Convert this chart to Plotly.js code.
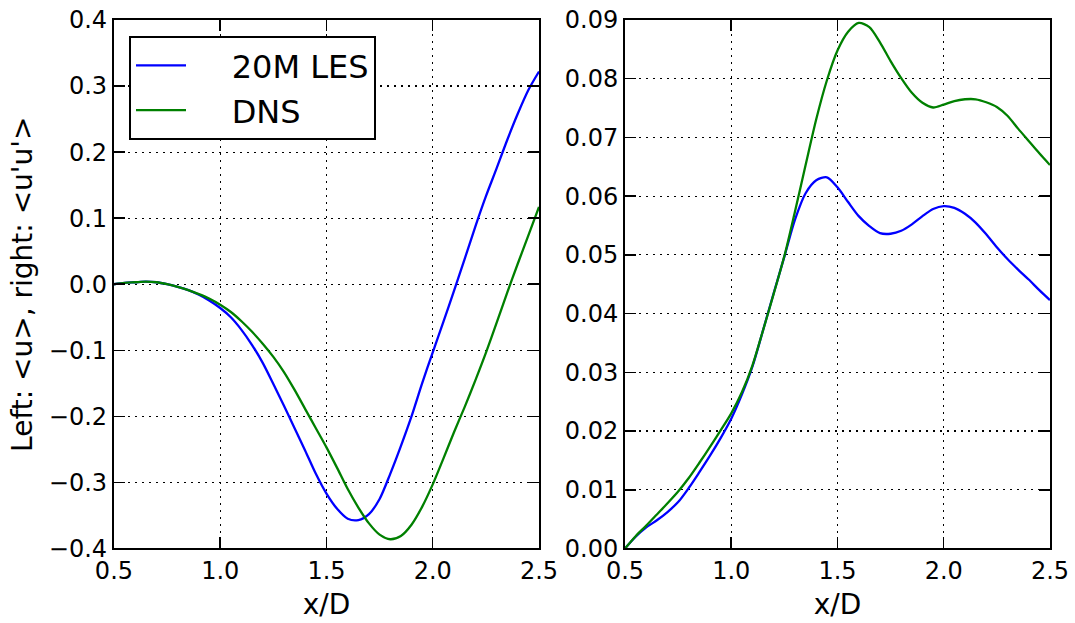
<!DOCTYPE html>
<html>
<head>
<meta charset="utf-8">
<script src="https://cdn.plot.ly/plotly-3.0.1.min.js"></script>
<style>html,body{margin:0;padding:0;background:#fff;}#chart{width:1075px;height:623px;}</style>
</head>
<body>
<div id="chart"></div>
<script>
// x positions (x/D)
const xD = [0.50,0.55,0.60,0.65,0.70,0.75,0.80,0.85,0.90,0.95,1.00,1.05,1.10,1.15,1.20,1.25,1.30,1.35,1.40,1.45,1.50,1.55,1.60,1.65,1.70,1.75,1.80,1.85,1.90,1.95,2.00,2.05,2.10,2.15,2.20,2.25,2.30,2.35,2.40,2.45,2.50];

// Left panel: <u>
const uLES = [0.000,0.002,0.003,0.004,0.003,0.000,-0.004,-0.009,-0.016,-0.025,-0.036,-0.050,-0.069,-0.092,-0.119,-0.151,-0.184,-0.218,-0.252,-0.287,-0.317,-0.340,-0.355,-0.357,-0.348,-0.325,-0.287,-0.245,-0.200,-0.150,-0.103,-0.057,-0.010,0.038,0.087,0.133,0.175,0.218,0.258,0.294,0.322];
const uDNS = [0.000,0.002,0.003,0.004,0.003,0.000,-0.004,-0.009,-0.015,-0.022,-0.031,-0.042,-0.056,-0.072,-0.090,-0.110,-0.133,-0.160,-0.189,-0.218,-0.247,-0.278,-0.310,-0.338,-0.362,-0.379,-0.386,-0.381,-0.364,-0.337,-0.303,-0.264,-0.224,-0.186,-0.146,-0.104,-0.059,-0.013,0.031,0.074,0.117];

// Right panel: <u'u'>
const uuLES = [0.0000,0.0020,0.0036,0.0048,0.0062,0.0079,0.0103,0.0130,0.0158,0.0188,0.0221,0.0262,0.0310,0.0372,0.0435,0.0497,0.0560,0.0605,0.0627,0.0632,0.0615,0.0590,0.0566,0.0549,0.0537,0.0536,0.0541,0.0552,0.0566,0.0578,0.0583,0.0580,0.0570,0.0555,0.0535,0.0513,0.0493,0.0475,0.0458,0.0440,0.0423];
const uuDNS = [0.0000,0.0021,0.0039,0.0058,0.0077,0.0097,0.0120,0.0146,0.0173,0.0201,0.0230,0.0266,0.0312,0.0372,0.0434,0.0498,0.0574,0.0653,0.0731,0.0797,0.0848,0.0880,0.0895,0.0888,0.0862,0.0830,0.0801,0.0776,0.0759,0.0751,0.0756,0.0762,0.0765,0.0765,0.0760,0.0752,0.0737,0.0715,0.0694,0.0673,0.0653];

const seriesNames = ['20M LES', 'DNS'];
const colors = ['#0000ff', '#008000'];
const yTitle = 'Left: &lt;u&gt;, right: &lt;u\'u\'&gt;';
const xTitle = 'x/D';

const FONT = 'DejaVu Sans, sans-serif';
const PAD = '\u00a0\u00a0\u00a0\u00a0';
const LW = 2.3;

const traces = [
  {x: xD, y: uLES, name: PAD + seriesNames[0], xaxis: 'x', yaxis: 'y', mode: 'lines', line: {color: colors[0], width: LW, shape: 'spline', smoothing: 0.8}},
  {x: xD, y: uDNS, name: PAD + seriesNames[1], xaxis: 'x', yaxis: 'y', mode: 'lines', line: {color: colors[1], width: LW, shape: 'spline', smoothing: 0.8}},
  {x: xD, y: uuLES, name: seriesNames[0], xaxis: 'x2', yaxis: 'y2', mode: 'lines', showlegend: false, line: {color: colors[0], width: LW, shape: 'spline', smoothing: 0.8}},
  {x: xD, y: uuDNS, name: seriesNames[1], xaxis: 'x2', yaxis: 'y2', mode: 'lines', showlegend: false, line: {color: colors[1], width: LW, shape: 'spline', smoothing: 0.8}}
];

function axisCommon() {
  return {
    showline: true, linecolor: '#000', linewidth: 2, mirror: 'allticks',
    ticks: 'inside', ticklen: 11, tickwidth: 1.5, tickcolor: '#000',
    showgrid: true, gridcolor: '#000', gridwidth: 1.2, griddash: '2px,5px',
    zeroline: false, automargin: false,
    tickfont: {family: FONT, size: 24, color: '#000'}
  };
}
const titleFont = {family: FONT, size: 28, color: '#000'};

const xa = Object.assign(axisCommon(), {domain: [0.106, 0.5014], range: [0.5, 2.5], dtick: 0.5, tick0: 0.5, tickformat: '.1f', anchor: 'y',
  title: {text: xTitle, font: titleFont, standoff: 10}});
const xa2 = Object.assign(axisCommon(), {domain: [0.5814, 0.9767], range: [0.5, 2.5], dtick: 0.5, tick0: 0.5, tickformat: '.1f', anchor: 'y2',
  title: {text: xTitle, font: titleFont, standoff: 10}});
const ya = Object.assign(axisCommon(), {domain: [0.1196, 0.9679], range: [-0.4, 0.4], dtick: 0.1, tick0: 0, tickformat: '.1f', anchor: 'x',
  title: {text: yTitle, font: titleFont, standoff: 8}});
const ya2 = Object.assign(axisCommon(), {domain: [0.1196, 0.9679], range: [0, 0.09], dtick: 0.01, tick0: 0, tickformat: '.2f', anchor: 'x2'});

const layout = {
  width: 1075, height: 623,
  margin: {l: 0, r: 0, t: 0, b: 0},
  paper_bgcolor: '#fff', plot_bgcolor: '#fff',
  showlegend: true,
  font: {family: FONT, color: '#000'},
  xaxis: xa, yaxis: ya, xaxis2: xa2, yaxis2: ya2,
  legend: {
    x: 0.12, y: 0.942, xanchor: 'left', yanchor: 'top',
    bgcolor: '#fff', bordercolor: '#000', borderwidth: 2,
    font: {family: FONT, size: 32, color: '#000'},
    itemwidth: 50, tracegroupgap: 0
  }
};

Plotly.newPlot('chart', traces, layout, {staticPlot: true});
</script>
</body>
</html>
